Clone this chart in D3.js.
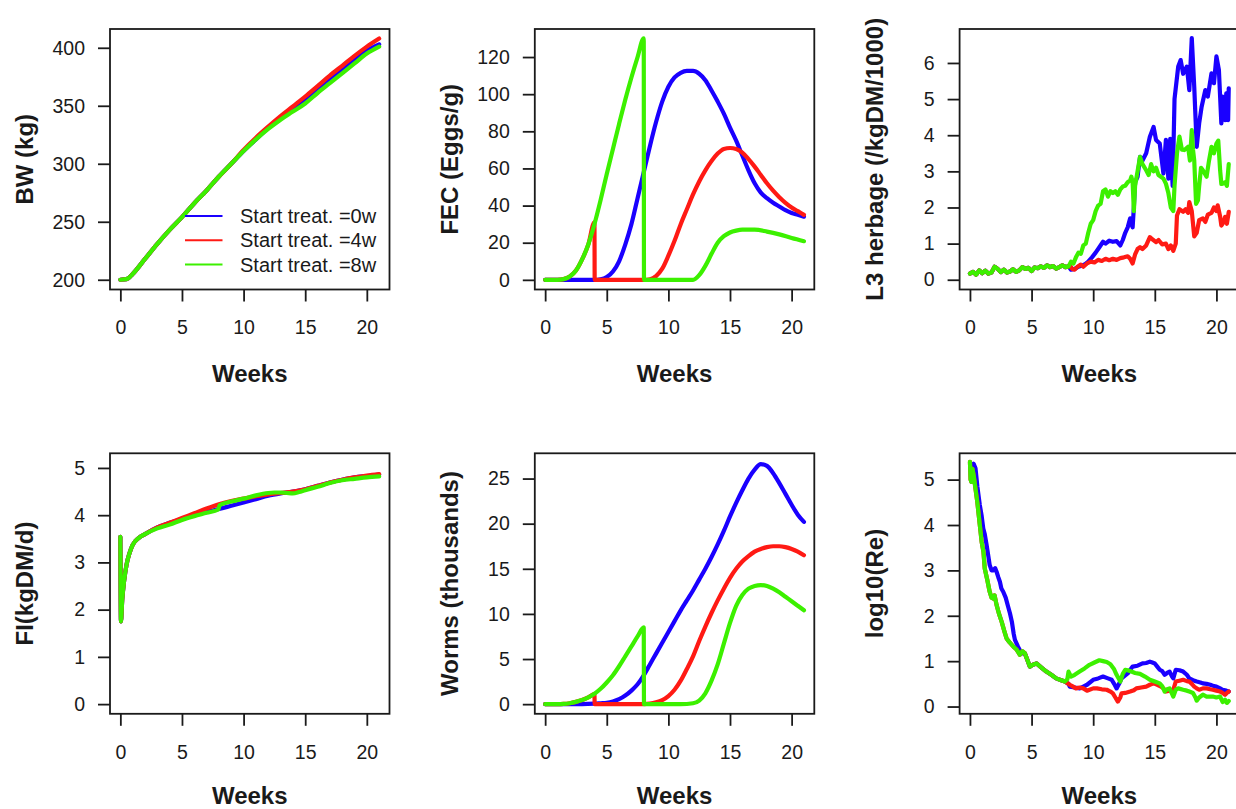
<!DOCTYPE html>
<html>
<head>
<meta charset="utf-8">
<script src="https://cdn.jsdelivr.net/npm/d3@7"></script>
<style>
body { margin: 0; background: #fff; }
svg text { font-family: "Liberation Sans", Arial, Helvetica, sans-serif; fill: #1a1a1a; }
</style>
</head>
<body>
<script>
// ---- data: [week, value] ----
var seriesNames = ["Start treat. =0w", "Start treat. =4w", "Start treat. =8w"];
var seriesColors = ["#1a00ff", "#ff1a14", "#3cf000"];
var weekTicks = [0, 5, 10, 15, 20];

// body weight (kg)
var bwBlue = [[0,200],[0.5,200.5],[1,205],[2,218],[3,231],[4,243],[5,254],[6,266],[7,277],[8,289],[9,300],[10,311],[11,321],[12,331],[13,339.5],[14,347],[15,355],[16,364],[17,372.5],[18,381],[19,389.5],[20,397.5],[21,403]];
var bwRed = [[0,200],[0.5,200.5],[1,205],[2,218],[3,231],[4,243],[5,254],[6,266],[7,277],[8,289],[9,300],[10,312],[11,322.5],[12,332],[13,341],[14,349.5],[15,358],[16,367],[17,376],[18,384.5],[19,393],[20,401],[21,408]];
var bwGreen = [[0,200],[0.5,200.5],[1,205],[2,218],[3,231],[4,243],[5,254],[6,266],[7,277],[8,289],[9,300],[10,311],[11,321],[12,330],[13,338],[14,345],[15,352],[16,361],[17,369.5],[18,378],[19,386.5],[20,395],[21,401]];

// faecal egg count (eggs/g)
var fecBlue = [[0,0],[4,0],[4.5,0.3],[5,1.5],[5.5,4.5],[6,10],[6.5,19],[7,30],[7.5,44],[8,58],[8.5,72],[9,85],[9.5,96],[10,104],[10.5,109],[11,111.5],[11.5,112.5],[12,112.5],[12.5,111],[13,107.5],[13.5,102],[14,96],[14.5,89.5],[15,82],[15.5,75],[16,67],[16.5,59],[17,52],[17.5,47],[18,44],[18.5,41.5],[19,39.5],[19.5,37.5],[20,36],[20.5,35],[21,34]];
var fecRed = [[0,0],[1,0],[1.5,0.4],[2,1.8],[2.5,5],[3,11],[3.5,19],[4,31],[4.02,0],[5,0],[6,0],[7,0],[8,0],[8.5,0.3],[9,2],[9.5,6],[10,13],[10.5,21],[11,30],[11.5,38],[12,46],[12.5,53],[13,59],[13.5,64],[14,68],[14.5,70.5],[15,71],[15.5,70.5],[16,68.5],[16.5,65],[17,61],[17.5,56.5],[18,52],[18.5,48],[19,44.5],[19.5,41.5],[20,39],[20.5,37],[21,35]];
var fecGreen = [[0,0],[1,0],[1.5,0.4],[2,1.8],[2.5,5],[3,11],[3.5,19],[4,30],[4.5,43],[5,57],[5.5,70.5],[6,84],[6.5,97],[7,109],[7.5,120],[8,130],[8.02,0],[9,0],[10,0],[11,0],[12,0],[12.5,2.5],[13,7.5],[13.5,14],[14,20],[14.5,23.5],[15,25.5],[15.5,26.5],[16,27],[17,27],[18,26],[19,24.5],[20,22.5],[21,20.8]];

// L3 on herbage (/kgDM/1000)
var l3Early = [[0,0.17],[0.25,0.22],[0.5,0.14],[0.75,0.26],[1,0.18],[1.25,0.25],[1.5,0.17],[1.75,0.2],[2,0.36],[2.25,0.3],[2.5,0.21],[2.75,0.28],[3,0.2],[3.25,0.23],[3.5,0.29],[3.75,0.22],[4,0.26],[4.25,0.35],[4.5,0.3],[4.75,0.33],[5,0.24],[5.25,0.34],[5.5,0.32],[5.75,0.37],[6,0.33],[6.25,0.4],[6.5,0.35],[6.75,0.38],[7,0.31],[7.25,0.35],[7.5,0.4],[7.75,0.35],[8,0.37]];
var l3BlueLate = [[8.2,0.28],[8.5,0.3],[8.8,0.36],[9,0.38],[9.3,0.42],[9.6,0.5],[9.9,0.62],[10.2,0.75],[10.5,0.9],[10.8,1.05],[11,1.0],[11.3,1.08],[11.6,1.05],[11.9,1.07],[12.2,0.95],[12.4,1.1],[12.6,1.3],[12.8,1.45],[13,1.7],[13.1,1.55],[13.2,1.45],[13.3,2.0],[13.4,2.7],[13.6,2.85],[13.8,3.4],[14.0,3.3],[14.3,3.5],[14.6,3.96],[14.9,4.23],[15.1,3.87],[15.4,3.77],[15.7,2.94],[15.9,3.87],[16.1,2.8],[16.25,3.9],[16.45,2.6],[16.6,5.0],[16.9,5.9],[17.1,6.08],[17.3,5.7],[17.6,5.9],[17.8,5.25],[18.0,6.69],[18.2,5.34],[18.4,3.68],[18.6,4.33],[18.8,4.79],[19.1,5.25],[19.3,5.07],[19.6,5.71],[19.8,5.44],[20.0,6.18],[20.2,5.81],[20.4,4.33],[20.5,5.07],[20.7,4.42],[20.8,5.16],[20.95,4.42],[21,5.3]];
var l3RedLate = [[8.1,0.4],[8.3,0.3],[8.5,0.28],[8.7,0.35],[9,0.42],[9.2,0.36],[9.5,0.45],[9.8,0.5],[10.1,0.48],[10.4,0.55],[10.7,0.52],[11,0.58],[11.3,0.54],[11.6,0.58],[11.9,0.55],[12.2,0.6],[12.5,0.62],[12.8,0.65],[13.0,0.58],[13.2,0.45],[13.4,0.7],[13.6,0.85],[13.8,0.9],[14.0,0.85],[14.3,0.95],[14.6,1.18],[14.8,1.12],[15.1,1.04],[15.3,1.1],[15.6,0.98],[15.9,1.0],[16.1,0.85],[16.3,0.95],[16.5,0.8],[16.7,1.0],[16.8,1.78],[17.0,1.95],[17.3,1.88],[17.5,1.95],[17.7,1.85],[17.8,2.15],[18.0,1.9],[18.2,1.2],[18.4,1.3],[18.6,1.65],[18.9,1.7],[19.1,1.6],[19.3,1.8],[19.6,1.85],[19.8,2.0],[20.0,1.9],[20.1,2.06],[20.3,1.75],[20.4,1.5],[20.6,1.6],[20.7,1.74],[20.85,1.55],[21,1.88]];
var l3GreenLate = [[8.2,0.5],[8.4,0.45],[8.6,0.62],[8.8,0.75],[9,0.72],[9.2,0.95],[9.4,1.0],[9.6,1.3],[9.8,1.55],[10,1.65],[10.2,1.9],[10.4,2.05],[10.6,2.1],[10.8,2.45],[11,2.5],[11.2,2.3],[11.4,2.45],[11.6,2.4],[11.8,2.45],[12,2.35],[12.2,2.5],[12.4,2.58],[12.6,2.6],[12.8,2.7],[13.0,2.75],[13.1,2.85],[13.2,2.7],[13.3,1.9],[13.4,2.6],[13.6,3.0],[13.8,3.4],[14.0,3.2],[14.3,3.03],[14.5,2.9],[14.7,3.2],[14.9,3.0],[15.1,3.1],[15.3,2.9],[15.5,2.85],[15.7,2.8],[15.9,2.66],[16.1,2.4],[16.3,2.0],[16.5,1.9],[16.6,2.6],[16.8,3.5],[17.0,3.96],[17.2,3.6],[17.4,3.59],[17.7,3.68],[17.85,3.3],[18.0,4.14],[18.1,3.6],[18.2,3.3],[18.35,2.1],[18.5,2.2],[18.6,2.6],[18.75,3.1],[18.9,3.03],[19.2,2.85],[19.4,3.3],[19.6,3.68],[19.8,3.5],[20.0,3.77],[20.15,3.85],[20.3,3.03],[20.4,2.65],[20.5,2.66],[20.7,2.7],[20.85,2.6],[21,3.2]];

// feed intake (kgDM/d)
var fiBlue = [[0,3.54],[0.05,1.75],[0.15,2.2],[0.3,2.6],[0.5,2.95],[0.75,3.2],[1,3.37],[1.5,3.52],[2,3.6],[3,3.74],[4,3.84],[5,3.92],[6,4.0],[7,4.07],[8,4.13],[9,4.2],[10,4.27],[11,4.34],[12,4.41],[13,4.46],[14,4.5],[15,4.55],[16,4.62],[17,4.69],[18,4.75],[19,4.8],[20,4.83],[21,4.86]];
var fiRed = [[0,3.54],[0.05,1.75],[0.15,2.2],[0.3,2.6],[0.5,2.95],[0.75,3.2],[1,3.37],[1.5,3.52],[2,3.6],[3,3.74],[4,3.84],[5,3.94],[6,4.04],[7,4.14],[8,4.23],[9,4.3],[10,4.35],[11,4.4],[12,4.44],[13,4.47],[14,4.5],[15,4.55],[16,4.62],[17,4.69],[18,4.75],[19,4.8],[20,4.84],[21,4.87]];
var fiGreen = [[0,3.54],[0.05,1.75],[0.15,2.2],[0.3,2.6],[0.5,2.95],[0.75,3.2],[1,3.37],[1.5,3.52],[2,3.6],[3,3.72],[4,3.8],[5,3.9],[6,3.98],[7,4.05],[7.95,4.12],[8.05,4.21],[9,4.29],[10,4.35],[11,4.42],[12,4.47],[12.5,4.48],[13,4.48],[13.5,4.47],[14,4.46],[14.5,4.49],[15,4.53],[16,4.6],[17,4.68],[18,4.74],[19,4.77],[20,4.8],[21,4.82]];

// worm burden (thousands)
var wormBlue = [[0,0],[3,0],[4,0.05],[4.5,0.1],[5,0.15],[5.5,0.3],[6,0.55],[6.5,0.95],[7,1.5],[7.5,2.2],[8,3.2],[8.5,4.4],[9,5.6],[9.5,6.8],[10,8],[10.5,9.2],[11,10.4],[11.5,11.5],[12,12.6],[12.5,13.8],[13,15],[13.5,16.3],[14,17.7],[14.5,19.2],[15,20.8],[15.5,22.3],[16,23.7],[16.5,25],[17,26],[17.5,26.6],[18,26.4],[18.5,25.6],[19,24.5],[19.5,23.3],[20,22.1],[20.5,21],[21,20.2]];
var wormRed = [[0,0],[1,0],[1.5,0.02],[2,0.1],[2.5,0.25],[3,0.45],[3.5,0.75],[4,1.1],[4.02,0],[5,0],[6,0],[7,0],[8,0],[8.5,0.05],[9,0.2],[9.5,0.45],[10,0.9],[10.5,1.6],[11,2.6],[11.5,3.9],[12,5.3],[12.5,7.0],[13,8.6],[13.5,10.1],[14,11.5],[14.5,12.8],[15,14],[15.5,15],[16,15.8],[16.5,16.4],[17,16.9],[17.5,17.2],[18,17.4],[18.5,17.5],[19,17.5],[19.5,17.4],[20,17.2],[20.5,16.9],[21,16.5]];
var wormGreen = [[0,0],[1,0],[1.5,0.02],[2,0.1],[2.5,0.25],[3,0.45],[3.5,0.75],[4,1.15],[4.5,1.7],[5,2.4],[5.5,3.2],[6,4.2],[6.5,5.3],[7,6.4],[7.5,7.5],[8,8.5],[8.02,0],[9,0],[10,0],[11,0],[12,0.1],[12.5,0.4],[13,1.2],[13.5,2.6],[14,4.4],[14.5,6.7],[15,9],[15.5,10.9],[16,12.1],[16.5,12.8],[17,13.1],[17.5,13.2],[18,13.1],[18.5,12.8],[19,12.4],[19.5,11.9],[20,11.4],[20.5,10.9],[21,10.4]];

// log10(Re)
var reGreenStart = [[0,5.39],[0.05,5.0],[0.12,4.95],[0.2,5.24],[0.3,5.1],[0.45,4.8],[0.6,4.5],[0.8,4.0],[0.95,3.63],[1.1,3.4],[1.2,3.04],[1.4,2.8],[1.6,2.53],[1.75,2.4],[1.9,2.38],[2.0,2.45],[2.16,2.24],[2.35,2.05],[2.57,1.87],[2.8,1.65],[2.97,1.5],[3.2,1.42],[3.4,1.36],[3.6,1.3],[3.8,1.25],[4.05,1.14],[4.25,1.22]];
var reBlueStart = [[0.15,5.15],[0.3,5.35],[0.45,5.25],[0.6,4.85],[0.8,4.44],[0.95,4.2],[1.08,3.92],[1.2,3.8],[1.35,3.56],[1.5,3.3],[1.6,3.12],[1.75,3.0],[1.9,3.0],[2.05,3.05],[2.16,2.97],[2.3,2.85],[2.43,2.75],[2.55,2.6],[2.7,2.53],[2.9,2.4],[3.1,2.2],[3.25,2.05],[3.4,1.87],[3.55,1.6],[3.65,1.47],[3.9,1.32],[4.1,1.22],[4.3,1.17]];
var reMiddle = [[4.46,1.17],[4.7,1.0],[4.86,0.88],[5.1,0.92],[5.4,0.95],[5.8,0.86],[6.2,0.77],[6.6,0.7],[7.0,0.62],[7.4,0.58],[7.7,0.55]];
var reBlueLate = [[8.0,0.5],[8.1,0.44],[8.5,0.42],[8.9,0.4],[9.2,0.44],[9.5,0.48],[10.0,0.59],[10.4,0.62],[10.8,0.66],[11.2,0.62],[11.5,0.59],[11.7,0.5],[11.9,0.4],[12.1,0.5],[12.3,0.62],[12.8,0.73],[13.2,0.88],[13.6,0.9],[14.0,0.95],[14.3,0.96],[14.6,0.99],[14.8,0.97],[15.0,0.95],[15.2,0.88],[15.4,0.81],[15.6,0.78],[15.8,0.7],[16.0,0.74],[16.2,0.77],[16.4,0.66],[16.5,0.62],[16.7,0.81],[17.0,0.8],[17.3,0.77],[17.6,0.7],[17.8,0.62],[18.1,0.58],[18.4,0.55],[18.7,0.53],[18.9,0.51],[19.2,0.5],[19.5,0.48],[19.8,0.45],[20.0,0.44],[20.3,0.4],[20.5,0.37],[20.8,0.35],[21,0.33]];
var reRedLate = [[8.0,0.5],[8.1,0.48],[8.3,0.45],[8.6,0.4],[8.9,0.42],[9.2,0.4],[9.5,0.35],[9.7,0.37],[10.0,0.4],[10.3,0.4],[10.7,0.38],[11.1,0.37],[11.4,0.33],[11.6,0.29],[11.8,0.2],[12.0,0.11],[12.2,0.2],[12.3,0.29],[12.6,0.3],[13.0,0.33],[13.3,0.36],[13.5,0.4],[13.9,0.42],[14.3,0.44],[14.6,0.48],[14.9,0.51],[15.2,0.48],[15.5,0.44],[15.7,0.4],[15.9,0.33],[16.2,0.35],[16.5,0.37],[16.7,0.55],[17.0,0.57],[17.3,0.59],[17.6,0.56],[17.8,0.55],[18.0,0.5],[18.2,0.44],[18.4,0.4],[18.6,0.37],[18.9,0.4],[19.2,0.4],[19.5,0.38],[19.7,0.37],[20.0,0.35],[20.3,0.33],[20.5,0.3],[20.7,0.26],[20.85,0.3],[21,0.33]];
var reGreenLate = [[7.9,0.6],[8.0,0.77],[8.2,0.66],[8.5,0.7],[8.9,0.77],[9.3,0.84],[9.7,0.92],[10.1,0.97],[10.5,1.02],[10.8,1.0],[11.1,0.98],[11.4,0.93],[11.7,0.82],[11.9,0.7],[12.2,0.55],[12.4,0.72],[12.6,0.81],[12.8,0.8],[13.1,0.77],[13.4,0.74],[13.8,0.72],[14.2,0.66],[14.6,0.59],[15.0,0.55],[15.4,0.51],[15.6,0.45],[15.8,0.33],[16.0,0.38],[16.2,0.4],[16.4,0.28],[16.5,0.22],[16.7,0.37],[16.9,0.4],[17.3,0.37],[17.6,0.35],[17.8,0.33],[18.1,0.3],[18.3,0.2],[18.4,0.13],[18.6,0.2],[18.9,0.26],[19.2,0.22],[19.7,0.22],[20.0,0.2],[20.3,0.22],[20.5,0.1],[20.7,0.15],[20.85,0.08],[21,0.12]];

// ---- layout ----
var W = 1236, H = 809;
var boxW = 279.5, boxH = 260.5;
var colLeft = [110, 534.8, 959.6];
var rowTop = [29, 453.3];

var smooth = d3.curveMonotoneX, jagged = d3.curveLinear;

var panels = [
  { col: 0, row: 0, label: "BW (kg)", yDomain: [191.6, 416.2], yTicks: [200, 250, 300, 350, 400],
    series: [bwBlue, bwRed, bwGreen], curve: smooth, legend: true },
  { col: 1, row: 0, label: "FEC (Eggs/g)", yDomain: [-5.2, 135.1], yTicks: [0, 20, 40, 60, 80, 100, 120],
    series: [fecBlue, fecRed, fecGreen], curve: smooth },
  { col: 2, row: 0, label: "L3 herbage (/kgDM/1000)", yDomain: [-0.27, 6.94], yTicks: [0, 1, 2, 3, 4, 5, 6],
    series: [l3Early.concat(l3BlueLate), l3Early.concat(l3RedLate), l3Early.concat(l3GreenLate)], curve: jagged },
  { col: 0, row: 1, label: "FI(kgDM/d)", yDomain: [-0.205, 5.31], yTicks: [0, 1, 2, 3, 4, 5],
    series: [fiBlue, fiRed, fiGreen], curve: smooth },
  { col: 1, row: 1, label: "Worms (thousands)", yDomain: [-1.07, 27.8], yTicks: [0, 5, 10, 15, 20, 25],
    series: [wormBlue, wormRed, wormGreen], curve: smooth },
  { col: 2, row: 1, label: "log10(Re)", yDomain: [-0.16, 5.58], yTicks: [0, 1, 2, 3, 4, 5],
    series: [reBlueStart.concat(reMiddle, reBlueLate), reGreenStart.concat(reMiddle, reRedLate), reGreenStart.concat(reMiddle, reGreenLate)], curve: jagged }
];

var svg = d3.select("body").append("svg")
  .attr("width", W)
  .attr("height", H);

panels.forEach(function(p, i) {
  var left = colLeft[p.col], top = rowTop[p.row];

  var x = d3.scaleLinear().domain([-0.84, 21.84]).range([0, boxW]);
  var y = d3.scaleLinear().domain(p.yDomain).range([boxH, 0]);

  var g = svg.append("g").attr("transform", "translate(" + left + "," + top + ")");

  g.append("clipPath").attr("id", "clip" + i)
    .append("rect").attr("width", boxW).attr("height", boxH);

  var line = d3.line()
    .x(function(d) { return x(d[0]); })
    .y(function(d) { return y(d[1]); })
    .curve(p.curve);

  g.append("g").attr("clip-path", "url(#clip" + i + ")")
    .selectAll("path")
    .data(p.series)
    .enter().append("path")
    .attr("d", line)
    .attr("fill", "none")
    .attr("stroke", function(d, k) { return seriesColors[k]; })
    .attr("stroke-width", 4.2)
    .attr("stroke-linejoin", "round")
    .attr("stroke-linecap", "round");

  // frame
  g.append("rect")
    .attr("width", boxW).attr("height", boxH)
    .attr("fill", "none").attr("stroke", "#1a1a1a").attr("stroke-width", 1.8);

  var fmt = d3.format("~g");
  var ax = g.append("g")
    .attr("transform", "translate(0," + boxH + ")")
    .call(d3.axisBottom(x).tickValues(weekTicks).tickFormat(fmt).tickSize(12).tickPadding(19));
  var ay = g.append("g")
    .call(d3.axisLeft(y).tickValues(p.yTicks).tickFormat(fmt).tickSize(12).tickPadding(13));

  [ax, ay].forEach(function(a) {
    a.select(".domain").remove();
    a.selectAll("line").attr("stroke", "#1a1a1a").attr("stroke-width", 1.8);
    a.selectAll("text")
      .attr("font-family", "Liberation Sans, Arial, sans-serif")
      .attr("font-size", 19.5)
      .attr("fill", "#1a1a1a");
  });

  // x title; the bottom row sits right at the page edge, as in the original
  g.append("text")
    .attr("x", boxW / 2).attr("y", Math.min(boxH + 92, H - top - 5))
    .attr("text-anchor", "middle")
    .attr("font-size", 24).attr("font-weight", "bold")
    .text("Weeks");

  g.append("text")
    .attr("transform", "translate(-77," + (boxH / 2) + ") rotate(-90)")
    .attr("text-anchor", "middle")
    .attr("font-size", 24).attr("font-weight", "bold")
    .text(p.label);

  if (p.legend) {
    var leg = g.selectAll(".leg")
      .data(seriesNames)
      .enter().append("g")
      .attr("class", "leg")
      .attr("transform", function(d, k) { return "translate(75," + (187 + k * 24.3) + ")"; });
    leg.append("line")
      .attr("x1", 0).attr("x2", 37.5)
      .attr("stroke", function(d, k) { return seriesColors[k]; })
      .attr("stroke-width", 2);
    leg.append("text")
      .attr("x", 55).attr("dy", "0.35em")
      .attr("font-size", 20)
      .text(function(d) { return d; });
  }
});
</script>
</body>
</html>
